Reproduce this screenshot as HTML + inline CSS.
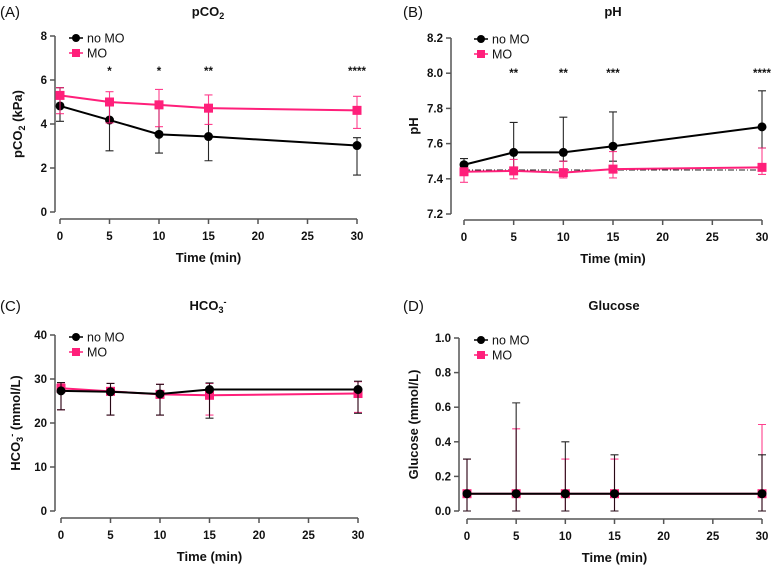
<!DOCTYPE html>
<html><head><meta charset="utf-8">
<style>
body{margin:0;background:#fff;}
svg{display:block;font-family:"Liberation Sans",Arial,sans-serif;}
.tk{font-size:11.5px;font-weight:bold;fill:#111;}
.ttl{font-size:13px;font-weight:bold;fill:#111;}
.lab{font-size:15px;fill:#111;}
.leg{font-size:12.5px;fill:#111;}
</style></head>
<body>
<svg id="chart" width="772" height="565" viewBox="0 0 772 565"></svg>
<script>
const times = [0, 5, 10, 15, 30];
const xTicks = [0, 5, 10, 15, 20, 25, 30];

const pco2NoMO = [4.82, 4.18, 3.53, 3.43, 3.02];
const pco2NoMOUp = [5.65, 4.95, 4.9, 4.6, 3.38];
const pco2NoMOLo = [4.12, 2.78, 2.68, 2.33, 1.68];
const pco2MO = [5.3, 5.0, 4.87, 4.72, 4.62];
const pco2MOUp = [5.65, 5.47, 5.57, 5.32, 5.26];
const pco2MOLo = [4.47, 4.05, 3.88, 3.98, 3.8];
const pco2Ticks = [0, 2, 4, 6, 8];
const pco2Stars = ["", "*", "*", "**", "****"];

const phNoMO = [7.48, 7.55, 7.55, 7.585, 7.695];
const phNoMOUp = [7.515, 7.72, 7.75, 7.78, 7.9];
const phNoMOLo = [7.43, 7.46, 7.5, 7.5, 7.575];
const phMO = [7.44, 7.445, 7.435, 7.455, 7.465];
const phMOUp = [7.46, 7.51, 7.5, 7.555, 7.575];
const phMOLo = [7.38, 7.4, 7.405, 7.405, 7.425];
const phTicks = [7.2, 7.4, 7.6, 7.8, 8.0, 8.2];
const phStars = ["", "**", "**", "***", "****"];
const phRef = 7.45;

const hco3NoMO = [27.3, 27.1, 26.6, 27.6, 27.6];
const hco3NoMOUp = [29.2, 29.0, 28.8, 29.1, 29.5];
const hco3NoMOLo = [23.0, 21.8, 21.8, 21.1, 22.2];
const hco3MO = [27.9, 27.2, 26.5, 26.3, 26.7];
const hco3MOUp = [29.1, 29.0, 28.8, 29.0, 29.4];
const hco3MOLo = [23.0, 21.8, 21.8, 21.8, 22.4];
const hco3Ticks = [0, 10, 20, 30, 40];

const gluNoMO = [0.1, 0.1, 0.1, 0.1, 0.1];
const gluNoMOUp = [0.3, 0.625, 0.4, 0.325, 0.325];
const gluNoMOLo = [0, 0, 0, 0, 0];
const gluMO = [0.1, 0.1, 0.1, 0.1, 0.1];
const gluMOUp = [0.3, 0.475, 0.3, 0.3, 0.5];
const gluMOLo = [0, 0, 0, 0, 0];
const gluTicks = [0, 0.2, 0.4, 0.6, 0.8, 1.0];

const svg = document.getElementById('chart');
const NS = 'http://www.w3.org/2000/svg';
function mk(tag, attrs, parent, text) {
  const e = document.createElementNS(NS, tag);
  for (const k in attrs) e.setAttribute(k, attrs[k]);
  if (text !== undefined) e.textContent = text;
  (parent || svg).appendChild(e);
  return e;
}
const PINK = '#ff1f7a';
const AX = '#555';

function panel(p) {
  const g = mk('g', {});
  
  
  const xs = v => p.x0 + (v - 0) / 30 * (p.x1 - p.x0);
  const ys = v => p.yb + (v - p.ymin) / (p.ymax - p.ymin) * (p.yt - p.yb);
  const pl = mk('text', {x: p.lx, y: p.ty + 1, class: 'lab'}, g, p.letter);
  
  
  const t = mk('text', {x: p.tx, y: p.ty, class: 'ttl', 'text-anchor': 'middle'}, g);
  
  
  t.innerHTML = p.title;
  const ya = mk('g', {}, g);
  
  
  mk('line', {x1: p.ax, x2: p.ax, y1: ys(p.ymax), y2: ys(p.ymin), stroke: AX, 'stroke-width': 1.5}, ya);
  p.yticks.forEach(v => {
    mk('line', {x1: p.ax - 5, x2: p.ax, y1: ys(v), y2: ys(v), stroke: AX, 'stroke-width': 1.5}, ya);
    const lt = mk('text', {x: p.ax - 8, y: ys(v) + 4, class: 'tk', 'text-anchor': 'end'}, ya, p.fmt(v));
    
    
  });
  const yt = mk('text', {x: 0, y: 0, class: 'ttl', 'text-anchor': 'middle', transform: `translate(${p.ytx},${(ys(p.ymax) + ys(p.ymin)) / 2}) rotate(-90)`}, ya);
  
  
  yt.innerHTML = p.ytitle;
  const xa = mk('g', {}, g);
  
  
  mk('line', {x1: xs(0), x2: xs(30), y1: p.xay, y2: p.xay, stroke: AX, 'stroke-width': 1.5}, xa);
  xTicks.forEach(v => {
    mk('line', {x1: xs(v), x2: xs(v), y1: p.xay, y2: p.xay + 5, stroke: AX, 'stroke-width': 1.5}, xa);
    const lt = mk('text', {x: xs(v), y: p.xay + 21, class: 'tk', 'text-anchor': 'middle'}, xa, String(v));
    
    
  });
  const xt = mk('text', {x: (xs(0) + xs(30)) / 2, y: p.xay + 43, class: 'ttl', 'text-anchor': 'middle'}, xa, 'Time (min)');
  
  
  if (p.ref !== undefined) {
    const rl = mk('line', {x1: xs(0), x2: xs(30), y1: ys(p.ref), y2: ys(p.ref), stroke: '#222', 'stroke-width': 1, 'stroke-dasharray': '6 2 1 2'}, g);
    
    
  }
  const series = [
    {name: 'no-mo', v: p.a, up: p.aUp, lo: p.aLo, col: '#000', sq: false},
    {name: 'mo', v: p.b, up: p.bUp, lo: p.bLo, col: PINK, sq: true}
  ];
  const order = p.blackOnTop ? [1, 0] : [0, 1];
  order.forEach(i => {
    const s = series[i];
    const sg = mk('g', {}, g);
    
    
    times.forEach((tm, j) => {
      const x = xs(tm);
      const eb = mk('path', {d: `M${x},${ys(s.lo[j])}V${ys(s.up[j])}M${x - 4},${ys(s.up[j])}H${x + 4}M${x - 4},${ys(s.lo[j])}H${x + 4}`, stroke: s.col, 'stroke-width': 1.1, fill: 'none', opacity: 0.85}, sg);
      
      
    });
    const ln = mk('polyline', {points: times.map((tm, j) => xs(tm) + ',' + ys(s.v[j])).join(' '), stroke: s.col, 'stroke-width': 2, fill: 'none'}, sg);
    
    
    times.forEach((tm, j) => {
      let m;
      if (s.sq) m = mk('rect', {x: xs(tm) - 4.5, y: ys(s.v[j]) - 4.5, width: 9, height: 9, fill: s.col}, sg);
      else m = mk('circle', {cx: xs(tm), cy: ys(s.v[j]), r: 4.5, fill: s.col}, sg);
      
      
    });
  });
  if (p.stars) {
    times.forEach((tm, j) => {
      if (!p.stars[j]) return;
      const st = mk('text', {x: xs(tm), y: p.stary, class: 'tk', 'text-anchor': 'middle'}, g, p.stars[j]);
      
      
    });
  }
  const lg = mk('g', {}, g);
  
  
  const lx = p.legx, ly = p.legy;
  mk('line', {x1: lx - 7, x2: lx + 7, y1: ly, y2: ly, stroke: '#000', 'stroke-width': 1.5}, lg);
  mk('circle', {cx: lx, cy: ly, r: 4, fill: '#000'}, lg);
  const l1 = mk('text', {x: lx + 11, y: ly + 4.5, class: 'leg'}, lg, 'no MO');
  
  
  mk('line', {x1: lx - 7, x2: lx + 7, y1: ly + 15, y2: ly + 15, stroke: PINK, 'stroke-width': 1.5}, lg);
  mk('rect', {x: lx - 4, y: ly + 11, width: 8, height: 8, fill: PINK}, lg);
  const l2 = mk('text', {x: lx + 11, y: ly + 19.5, class: 'leg'}, lg, 'MO');
  
  
}

panel({name: 'panel-pco2', letter: '(A)', lx: 0, tx: 208, ty: 16, title: 'pCO<tspan font-size="9" dy="3">2</tspan>',
  ax: 55, x0: 60, x1: 357, yt: 36, yb: 212, ymin: 0, ymax: 8, xay: 219, yticks: pco2Ticks, fmt: v => String(v),
  ytx: 22, ytitle: 'pCO<tspan font-size="9" dy="3">2</tspan><tspan dy="-3"> (kPa)</tspan>',
  a: pco2NoMO, aUp: pco2NoMOUp, aLo: pco2NoMOLo, b: pco2MO, bUp: pco2MOUp, bLo: pco2MOLo,
  stars: pco2Stars, stary: 75, legx: 76, legy: 38});

panel({name: 'panel-ph', letter: '(B)', lx: 403, tx: 613, ty: 16, title: 'pH',
  ax: 451, x0: 464, x1: 762, yt: 38, yb: 214, ymin: 7.2, ymax: 8.2, xay: 220, yticks: phTicks, fmt: v => v.toFixed(1),
  ytx: 418, ytitle: 'pH', ref: phRef,
  a: phNoMO, aUp: phNoMOUp, aLo: phNoMOLo, b: phMO, bUp: phMOUp, bLo: phMOLo,
  stars: phStars, stary: 77, legx: 481, legy: 39});

panel({name: 'panel-hco3', letter: '(C)', lx: 0, tx: 208, ty: 310, title: 'HCO<tspan font-size="9" dy="3">3</tspan><tspan font-size="9" dy="-8">-</tspan>',
  ax: 55, x0: 61, x1: 358, yt: 335, yb: 511, ymin: 0, ymax: 40, xay: 518, yticks: hco3Ticks, fmt: v => String(v),
  ytx: 20, ytitle: 'HCO<tspan font-size="9" dy="3">3</tspan><tspan font-size="9" dy="-8">-</tspan><tspan dy="5"> (mmol/L)</tspan>',
  a: hco3NoMO, aUp: hco3NoMOUp, aLo: hco3NoMOLo, b: hco3MO, bUp: hco3MOUp, bLo: hco3MOLo,
  blackOnTop: true, legx: 76, legy: 337});

panel({name: 'panel-glucose', letter: '(D)', lx: 403, tx: 614, ty: 310, title: 'Glucose',
  ax: 459, x0: 467, x1: 762, yt: 338, yb: 511, ymin: 0, ymax: 1.0, xay: 519, yticks: gluTicks, fmt: v => v.toFixed(1),
  ytx: 418, ytitle: 'Glucose (mmol/L)',
  a: gluNoMO, aUp: gluNoMOUp, aLo: gluNoMOLo, b: gluMO, bUp: gluMOUp, bLo: gluMOLo,
  blackOnTop: true, legx: 481, legy: 340});
</script>
</body></html>
